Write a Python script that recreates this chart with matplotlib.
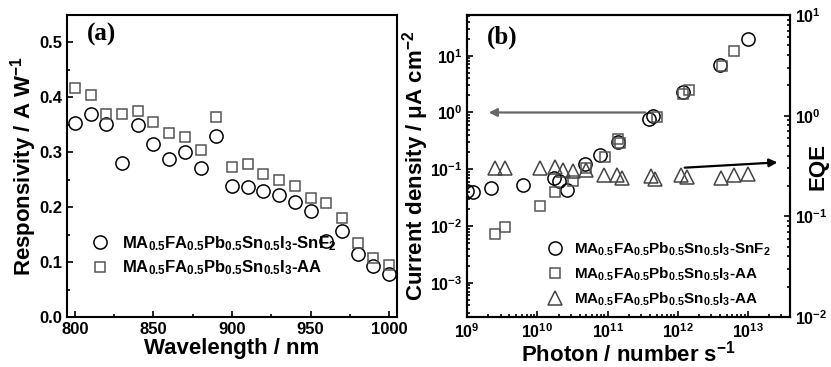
import matplotlib
matplotlib.use("Agg")
import matplotlib.pyplot as plt
from matplotlib.ticker import MultipleLocator, LogLocator, NullFormatter
import numpy as np

plt.rcParams['font.family'] = ['Liberation Sans', 'DejaVu Sans']
plt.rcParams['font.weight'] = 'bold'
plt.rcParams['axes.labelweight'] = 'bold'
plt.rcParams['mathtext.fontset'] = 'custom'
plt.rcParams['mathtext.rm'] = 'Liberation Sans:bold'
plt.rcParams['mathtext.it'] = 'Liberation Sans:bold'
plt.rcParams['mathtext.bf'] = 'Liberation Sans:bold'

# panel (a) responsivity
wavelength = [800, 810, 820, 830, 840, 850, 860, 870, 880, 890, 900,
              910, 920, 930, 940, 950, 960, 970, 980, 990, 1000]
resp_snf2 = [0.354, 0.369, 0.351, 0.280, 0.349, 0.316, 0.287, 0.301, 0.271, 0.329, 0.238,
             0.237, 0.230, 0.223, 0.209, 0.194, 0.139, 0.157, 0.115, 0.093, 0.079]
resp_aa = [0.418, 0.405, 0.369, 0.370, 0.375, 0.356, 0.335, 0.327, 0.304, 0.365, 0.274,
           0.279, 0.260, 0.250, 0.238, 0.216, 0.207, 0.181, 0.134, 0.108, 0.095]

# panel (b) current density vs photon flux
photon_snf2 = [1.0e9, 1.22e9, 2.2e9, 6.3e9, 1.7e10, 2.0e10, 2.6e10, 4.8e10, 7.7e10,
               1.4e11, 3.9e11, 4.4e11, 1.2e12, 4.0e12, 1.0e13]
j_snf2 = [0.042, 0.040, 0.046, 0.052, 0.071, 0.062, 0.043, 0.123, 0.177,
          0.30, 0.78, 0.85, 2.3, 6.9, 20]
photon_aa = [2.5e9, 3.5e9, 1.1e10, 1.8e10, 3.2e10, 5.0e10, 9.3e10, 1.4e11, 1.5e11,
             5.0e11, 1.2e12, 1.45e12, 4.3e12, 6.3e12]
j_aa = [0.0071, 0.0097, 0.023, 0.040, 0.062, 0.107, 0.167, 0.34, 0.29,
        0.82, 2.1, 2.5, 6.5, 11.9]
photon_eqe = [2.5e9, 3.5e9, 1.1e10, 1.8e10, 2.3e10, 3.2e10, 5.0e10, 8.9e10, 1.35e11,
              1.6e11, 4.1e11, 4.8e11, 1.1e12, 1.35e12, 4.1e12, 6.3e12, 1.0e13]
eqe_aa = [0.30, 0.30, 0.30, 0.31, 0.29, 0.28, 0.29, 0.255, 0.255,
          0.24, 0.25, 0.236, 0.26, 0.245, 0.24, 0.255, 0.265]

lab_snf2 = r'MA$_{0.5}$FA$_{0.5}$Pb$_{0.5}$Sn$_{0.5}$I$_3$-SnF$_2$'
lab_aa = r'MA$_{0.5}$FA$_{0.5}$Pb$_{0.5}$Sn$_{0.5}$I$_3$-AA'

fig = plt.figure(figsize=(8.31, 3.67), dpi=100)
ax1 = fig.add_axes([0.0806, 0.1362, 0.3971, 0.8228])
ax2 = fig.add_axes([0.5623, 0.1362, 0.3884, 0.8228])

# (a)
ax1.plot(wavelength, resp_snf2, 'o', mfc='none', mec='black', mew=1.1, ms=9.5, label=lab_snf2)
ax1.plot(wavelength, resp_aa, 's', mfc='none', mec='#555555', mew=1.1, ms=7.5, label=lab_aa)
ax1.set_xlim(795, 1005)
ax1.set_ylim(0, 0.55)
ax1.xaxis.set_major_locator(MultipleLocator(50))
ax1.xaxis.set_minor_locator(MultipleLocator(25))
ax1.yaxis.set_major_locator(MultipleLocator(0.1))
ax1.yaxis.set_minor_locator(MultipleLocator(0.05))
ax1.tick_params(which='both', direction='in', labelsize=12, width=1.2)
ax1.tick_params(which='major', length=4)
ax1.tick_params(which='minor', length=2.5)
ax1.set_xlabel('Wavelength / nm', fontsize=16, labelpad=1)
ax1.set_ylabel('Responsivity / A W$^{-1}$', fontsize=16)
ax1.yaxis.set_label_coords(-0.086, 0.5)
ax1.text(0.06, 0.915, '(a)', transform=ax1.transAxes, fontsize=18,
         family=['Liberation Serif'], weight='bold')
ax1.legend(loc='lower left', bbox_to_anchor=(0.05, 0.11), frameon=False,
           fontsize=12, handlelength=1.2, handletextpad=0.7, labelspacing=0.35,
           borderaxespad=0)

# (b)
ax2.plot(photon_snf2, j_snf2, 'o', mfc='none', mec='black', mew=1.1, ms=9.5, label=lab_snf2)
ax2.plot(photon_aa, j_aa, 's', mfc='none', mec='#555555', mew=1.1, ms=7.5, label=lab_aa)
ax2.set_xscale('log')
ax2.set_yscale('log')
ax2.set_xlim(1e9, 4e13)
ax2.set_ylim(2.5e-4, 52)
ax2.set_xlabel('Photon / number s$^{-1}$', fontsize=16, labelpad=0)
ax2.set_ylabel('Current density / μA cm$^{-2}$', fontsize=16)
ax2.yaxis.set_label_coords(-0.112, 0.5)
ax2.text(0.06, 0.905, '(b)', transform=ax2.transAxes, fontsize=18,
         family=['Liberation Serif'], weight='bold')

ax3 = ax2.twinx()
ax3.plot(photon_eqe, eqe_aa, '^', mfc='none', mec='#444444', mew=1.1, ms=9.5, label=lab_aa)
ax3.set_yscale('log')
ax3.set_ylim(1e-2, 10)
ax3.set_ylabel('EQE', fontsize=16)
ax3.yaxis.set_label_coords(1.055, 0.5)

for a in (ax2, ax3):
    a.tick_params(which='both', direction='in', labelsize=11.5, width=1.2)
    a.tick_params(which='major', length=4)
    a.tick_params(which='minor', length=2.5)
ax2.xaxis.set_major_locator(LogLocator(base=10, numticks=20))
ax2.xaxis.set_minor_locator(LogLocator(base=10, subs=np.arange(2, 10), numticks=20))
ax2.xaxis.set_minor_formatter(NullFormatter())
ax2.yaxis.set_major_locator(LogLocator(base=10, numticks=20))
ax2.yaxis.set_minor_locator(LogLocator(base=10, subs=np.arange(2, 10), numticks=20))
ax2.yaxis.set_minor_formatter(NullFormatter())
ax2.yaxis.set_ticks([1e-3, 1e-2, 1e-1, 1, 10])

# guide arrows
ax2.annotate('', xy=(1.85e9, 1.0), xytext=(3.8e11, 1.0),
             arrowprops=dict(arrowstyle='-|>', color='#666666', lw=1.6, mutation_scale=12))
ax2.annotate('', xy=(2.9e13, 0.133), xytext=(1.15e12, 0.106),
             arrowprops=dict(arrowstyle='-|>', color='black', lw=1.6, mutation_scale=12))

h1, l1 = ax2.get_legend_handles_labels()
h2, l2 = ax3.get_legend_handles_labels()
ax3.legend(h1 + h2, l1 + l2, loc='lower right', bbox_to_anchor=(0.97, 0.0), frameon=False,
           fontsize=11, handlelength=1.2, handletextpad=0.7, labelspacing=0.5,
           borderaxespad=0.2)

for a in (ax1, ax2, ax3):
    for s in a.spines.values():
        s.set_linewidth(1.5)

fig.savefig('out.png', dpi=100)
